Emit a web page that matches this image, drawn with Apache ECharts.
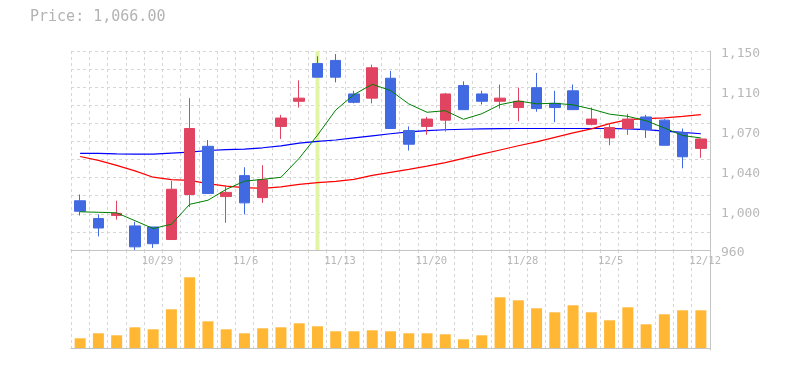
<!DOCTYPE html>
<html>
<head>
<meta charset="utf-8">
<script src="https://cdn.jsdelivr.net/npm/echarts@6/dist/echarts.min.js"></script>
<style>
html,body{margin:0;padding:0;background:#fff;}
#c{width:785px;height:370px;}
</style>
</head>
<body>
<div id="c"></div>
<script>
// ---- data ----
const dates = ['10/23','10/24','10/27','10/28','10/29','10/30','10/31','11/4','11/5','11/6',
  '11/7','11/10','11/11','11/12','11/13','11/14','11/17','11/18','11/19','11/20',
  '11/21','11/25','11/26','11/27','11/28','12/1','12/2','12/3','12/4','12/5',
  '12/8','12/9','12/10','12/11','12/12'];
const xTickLabels = ['10/29','11/6','11/13','11/20','11/28','12/5','12/12'];
const yTickLabels = ['960','1,000','1,040','1,070','1,110','1,150'];
const highlightDate = '11/12';
const titleText = 'Price: 1,066.00';

const opens  = [1007,990,993,983,982,970,1013,1059,1011,1031,1010,1078,1102,1138,1141,1109,1105,1124,1074,1078,1084,1117,1109,1102,1096,1115,1100,1112,1080,1067,1076,1087,1084,1072,1057];
const closes = [997,981,995,963,966,1018,1076,1014,1015,1005,1027,1086,1105,1125,1125,1101,1134,1076,1061,1085,1109,1094,1102,1105,1102,1095,1096,1094,1085,1077,1085,1075,1060,1049,1066];
const lows   = [993,973,989,960,962,970,1001,1014,986,994,1005,1066,1096,1125,1120,1100,1100,1076,1055,1070,1073,1094,1099,1095,1083,1092,1082,1094,1079,1060,1070,1067,1060,1038,1048];
const highs  = [1013,994,1007,987,982,1026,1105,1065,1022,1039,1041,1089,1122,1145,1147,1112,1137,1131,1078,1087,1110,1121,1112,1118,1115,1129,1112,1118,1096,1081,1090,1089,1085,1076,1066];

const maShort = [996.5,996,995.5,988,980.5,984.6,1003.6,1007.5,1017.9,1025.7,1027.5,1029.4,1047.6,1069.6,1093.6,1108.4,1118.2,1112.3,1099.5,1091.5,1093,1084.8,1090.1,1098.8,1102.3,1099.6,1100.1,1098.6,1094.6,1089.7,1087.6,1083.4,1076.5,1069.3,1067];
const maMid   = [1049.3,1045.5,1040.8,1035.5,1029.5,1027.2,1026.5,1023.3,1021,1019.6,1018.8,1020.2,1022.6,1024.3,1025.5,1027.5,1031.3,1034.2,1037,1040,1043.5,1047.5,1051.5,1055.5,1059.5,1063.2,1067.5,1071.8,1075.6,1080.6,1084.5,1085.4,1086.2,1087.5,1089.3];
const maLong  = [1052.2,1052.2,1051.8,1051.5,1051.5,1052.5,1053.5,1055,1055.8,1056.3,1057.6,1059.5,1062,1063.8,1065,1067,1069,1071,1072.7,1074,1074.8,1075.3,1075.6,1075.8,1076,1076,1076,1076,1076,1076,1075.7,1075,1073.5,1072.3,1071];

const volumes = [97,147,127,207,187,387,707,267,187,147,197,207,247,217,167,167,177,167,147,147,137,87,127,507,477,397,357,427,357,277,407,237,337,377,377];

// ---- chart ----
const FONT = 'DejaVu Sans Mono';
const GRID_LINE = {show:true, lineStyle:{color:'#d6d6d6', type:[3,3], width:1}};
const AXIS_LINE = {show:true, lineStyle:{color:'#c4c4c4', width:1}};
const LABEL_COLOR = '#b8b8b8';

const candles = opens.map((o,i)=>[o, closes[i], lows[i], highs[i]]);
const highlight = dates.map(d => d === highlightDate ? 1 : null);

const chart = echarts.init(document.getElementById('c'), null, {renderer:'canvas'});
chart.setOption({
  animation:false,
  backgroundColor:'#fff',
  title:{text:titleText, left:30, top:10, padding:0,
    textStyle:{fontFamily:FONT, fontSize:15, fontWeight:'normal', color:'#b3b3b3'}},
  grid:[
    {left:71, right:75, top:51, height:199},      // price
    {left:71, right:75, top:250, height:100},     // volume
    {left:71, right:75, top:54, height:199},      // price labels (text only)
    {left:59.5, right:86.5, top:51, height:199}   // date labels (text only)
  ],
  xAxis:[
    {type:'category', gridIndex:0, data:dates, boundaryGap:true,
      axisLine:AXIS_LINE, axisTick:{show:false}, axisLabel:{show:false},
      splitLine:Object.assign({interval:0}, GRID_LINE)},
    {type:'category', gridIndex:1, data:dates, boundaryGap:true,
      axisLine:AXIS_LINE, axisTick:{show:false}, axisLabel:{show:false},
      splitLine:Object.assign({interval:0}, GRID_LINE)},
    {type:'category', gridIndex:2, data:dates, show:false},
    {type:'category', gridIndex:3, data:dates, boundaryGap:true,
      axisLine:{show:false}, axisTick:{show:false}, splitLine:{show:false},
      axisLabel:{interval:(i,v)=>xTickLabels.includes(v), color:LABEL_COLOR, align:'left',
        fontFamily:FONT, fontSize:10.5, margin:6}}
  ],
  yAxis:[
    {type:'value', gridIndex:0, min:960, max:1150, show:false, splitLine:{show:false}},
    {type:'value', gridIndex:0, min:0, max:11, interval:1, position:'left',
      axisLine:{show:false}, axisTick:{show:false}, axisLabel:{show:false},
      splitLine:GRID_LINE},
    {type:'value', gridIndex:0, min:0, max:1, position:'right',
      axisLine:AXIS_LINE, axisTick:{show:false}, axisLabel:{show:false}, splitLine:{show:false}},
    {type:'value', gridIndex:1, min:-20, max:980, position:'right',
      axisLine:AXIS_LINE, axisTick:{show:false}, axisLabel:{show:false}, splitLine:{show:false}},
    {type:'value', gridIndex:2, min:0, max:5, interval:1, position:'right',
      axisLine:{show:false}, axisTick:{show:false}, splitLine:{show:false},
      axisLabel:{formatter:(v)=>yTickLabels[Math.round(v)], color:LABEL_COLOR,
        fontFamily:FONT, fontSize:13, margin:11}},
    {type:'value', gridIndex:3, min:0, max:1, show:false}
  ],
  series:[
    {type:'bar', xAxisIndex:0, yAxisIndex:2, data:highlight, barWidth:4, z:1, silent:true,
      itemStyle:{color:'#e2f5a6'}},
    {type:'line', name:'MA long', xAxisIndex:0, yAxisIndex:0, data:maLong,
      showSymbol:false, symbol:'none', lineStyle:{color:'#0000ff', width:1.2}, z:3},
    {type:'line', name:'MA mid', xAxisIndex:0, yAxisIndex:0, data:maMid,
      showSymbol:false, symbol:'none', lineStyle:{color:'#ff0000', width:1.2}, z:3},
    {type:'candlestick', xAxisIndex:0, yAxisIndex:0, data:candles, barWidth:11, z:4,
      itemStyle:{color:'#e04460', color0:'#4169e1', borderColor:'#e04460', borderColor0:'#4169e1', borderWidth:1}},
    {type:'line', name:'MA short', xAxisIndex:0, yAxisIndex:0, data:maShort,
      showSymbol:false, symbol:'none', lineStyle:{color:'#008000', width:1}, z:5},
    {type:'bar', xAxisIndex:1, yAxisIndex:3, data:volumes, barWidth:11,
      itemStyle:{color:'#ffb734'}}
  ]
});
</script>
</body>
</html>
